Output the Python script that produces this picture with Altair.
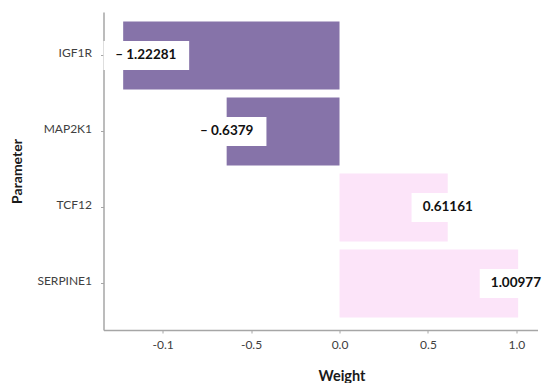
import altair as alt
import pandas as pd

PARAMS = ["IGF1R", "MAP2K1", "TCF12", "SERPINE1"]
WEIGHTS = [-1.22281, -0.6379, 0.61161, 1.00977]
TICK_VALUES = [-1.0, -0.5, 0.0, 0.5, 1.0]
TICK_LABELS = ["-0.1", "-0.5", "0.0", "0.5", "1.0"]

NEG_COLOR = "#8673A9"
POS_COLOR = "#FCE4F9"

df = pd.DataFrame({"param": PARAMS, "w": WEIGHTS})

label_expr = " : ".join(
    f"datum.value == {v} ? '{t}'" for v, t in zip(TICK_VALUES, TICK_LABELS)
) + " : datum.label"

xdom = [-1.334, 1.119]
xscale = alt.Scale(domain=xdom, nice=False, zero=False)
yscale = alt.Scale(domain=PARAMS, paddingInner=0.105, paddingOuter=0.145, align=0.43)

base = alt.Chart(df).transform_calculate(
    sign="datum.w < 0 ? 'neg' : 'pos'",
    label="datum.w < 0 ? '\u2013 ' + toString(-datum.w) : toString(datum.w)",
).transform_calculate(
    lx="min(max(datum.w, -1.095), 0.997)",
    hw="(11 + length(datum.label) * 3.6) / 177",
).transform_calculate(
    bx="datum.lx - datum.hw",
    bx2="datum.lx + datum.hw",
)

xaxis = alt.Axis(
    title="Weight",
    values=TICK_VALUES,
    labelExpr=label_expr,
    grid=False,
    domainColor="#a6a6a6",
    domainWidth=1.5,
    tickColor="#a6a6a6",
    tickSize=3,
    labelFont="Lato",
    labelFontSize=12,
    labelColor="#404040",
    labelPadding=6,
    titleFont="Lato",
    titleFontSize=14.5,
    titleFontWeight="bold",
    titleColor="#1a1a1a",
    titleX=238,
    titleY=50,
    titleBaseline="alphabetic",
)

yaxis = alt.Axis(
    title="Parameter",
    grid=False,
    domainColor="#a6a6a6",
    domainWidth=1.5,
    tickColor="#a6a6a6",
    tickSize=3,
    labelFont="Lato",
    labelFontSize=12,
    labelColor="#404040",
    labelPadding=9,
    labelOffset=-2,
    titleFont="Lato",
    titleFontSize=14,
    titleFontWeight="bold",
    titleColor="#1a1a1a",
    titleX=-82.5,
    titleBaseline="alphabetic",
)

bars = base.mark_bar().encode(
    x=alt.X("w:Q", scale=xscale, axis=xaxis),
    x2=alt.datum(0),
    y=alt.Y("param:N", scale=yscale, axis=yaxis, sort=PARAMS),
    color=alt.Color(
        "sign:N",
        scale=alt.Scale(domain=["neg", "pos"], range=[NEG_COLOR, POS_COLOR]),
        legend=None,
    ),
)

boxes = base.mark_bar(color="white", size=29, clip=True).encode(
    x=alt.X("bx:Q", scale=xscale),
    x2="bx2:Q",
    y=alt.Y("param:N", scale=yscale, sort=PARAMS),
)

texts = base.mark_text(
    font="Lato", fontSize=13.5, fontWeight="bold", color="#111111",
    align="center", baseline="middle",
).encode(
    x=alt.X("lx:Q", scale=xscale),
    y=alt.Y("param:N", scale=yscale, sort=PARAMS),
    text="label:N",
)

chart = alt.layer(bars, boxes, texts).properties(
    width=434,
    height=318,
    autosize=alt.AutoSizeParams(type="none"),
    padding={"left": 95.5, "top": 4, "right": 4.5, "bottom": 53},
).configure_view(stroke=None)

chart.save("out.html", embed_options={"renderer": "svg", "actions": False})
